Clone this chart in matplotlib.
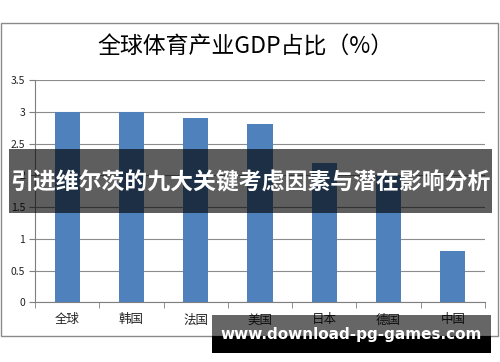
import matplotlib
matplotlib.use("Agg")
import matplotlib.pyplot as plt
from matplotlib.patches import Rectangle

plt.rcParams['font.family'] = ['Noto Sans CJK SC', 'DejaVu Sans']

categories = ["全球", "韩国", "法国", "美国", "日本", "德国", "中国"]
values = [3.0, 3.0, 2.9, 2.8, 2.2, 2.0, 0.8]
yticks = [0, 0.5, 1, 1.5, 2, 2.5, 3, 3.5]
ytick_labels = ["0", "0.5", "1", "1.5", "2", "2.5", "3", "3.5"]
title = "全球体育产业GDP占比（%）"
banner = "引进维尔茨的九大关键考虑因素与潜在影响分析"
watermark = "www.download-pg-games.com"

W, H = 500, 362
fig = plt.figure(figsize=(W / 100, H / 100), dpi=100)
fig.patch.set_facecolor("white")

def fx(px):
    return px / W

def fy(py):
    return 1 - py / H

# outer chart frame
fig.patches.append(Rectangle((fx(1), fy(336)), fx(497), (336 - 23) / H,
                             transform=fig.transFigure, facecolor="none",
                             edgecolor="#8a8a8a", linewidth=1.0, zorder=-1))

ax = fig.add_axes([fx(35), fy(302.3), fx(450), (302.3 - 80) / H])
ax.set_facecolor("none")
x = list(range(len(categories)))
ax.bar(x, values, width=0.39, color="#4f81bd", zorder=3)
ax.set_xlim(-0.5, len(categories) - 0.5)
ax.set_ylim(0, 3.5)
ax.set_yticks(yticks)
ax.set_yticklabels(ytick_labels, fontsize=7.5, color="#222222")
ax.set_xticks(x)
ax.set_xticklabels(categories, fontsize=9, color="#222222")
ax.set_xticks([i - 0.5 for i in range(len(categories) + 1)], minor=True)
ax.tick_params(axis="x", which="major", length=0, pad=8)
ax.tick_params(axis="x", which="minor", length=4, color="#7f7f7f", direction="out")
ax.tick_params(axis="y", length=4, color="#7f7f7f", direction="out", pad=3)
ax.grid(axis="y", color="#8c8c8c", linewidth=0.8, zorder=0)
for s in ["top", "right"]:
    ax.spines[s].set_visible(False)
for s in ["left", "bottom"]:
    ax.spines[s].set_color("#7f7f7f")
    ax.spines[s].set_linewidth(0.8)

fig.text(fx(245), fy(47), title, ha="center", va="center", fontsize=16.5, color="#000000")

# middle banner
fig.patches.append(Rectangle((fx(9), fy(213)), fx(483), (213 - 149) / H,
                             transform=fig.transFigure, facecolor="black",
                             alpha=0.63, edgecolor="none", zorder=10))
fig.text(fx(250), fy(183), banner, ha="center", va="center", fontsize=16.5,
         fontweight="bold", color="white", zorder=11)

# bottom banner
fig.patches.append(Rectangle((fx(212), fy(336)), fx(279), (336 - 315) / H,
                             transform=fig.transFigure, facecolor="black",
                             alpha=0.6, edgecolor="none", zorder=10))
fig.patches.append(Rectangle((fx(212), fy(353)), fx(279), (353 - 336) / H,
                             transform=fig.transFigure, facecolor="black",
                             edgecolor="none", zorder=10))
fig.text(fx(351), fy(334), watermark, ha="center", va="center", fontsize=11,
         fontweight="bold", color="white", family=["DejaVu Sans"], zorder=11)

fig.savefig("out.png", dpi=100)
